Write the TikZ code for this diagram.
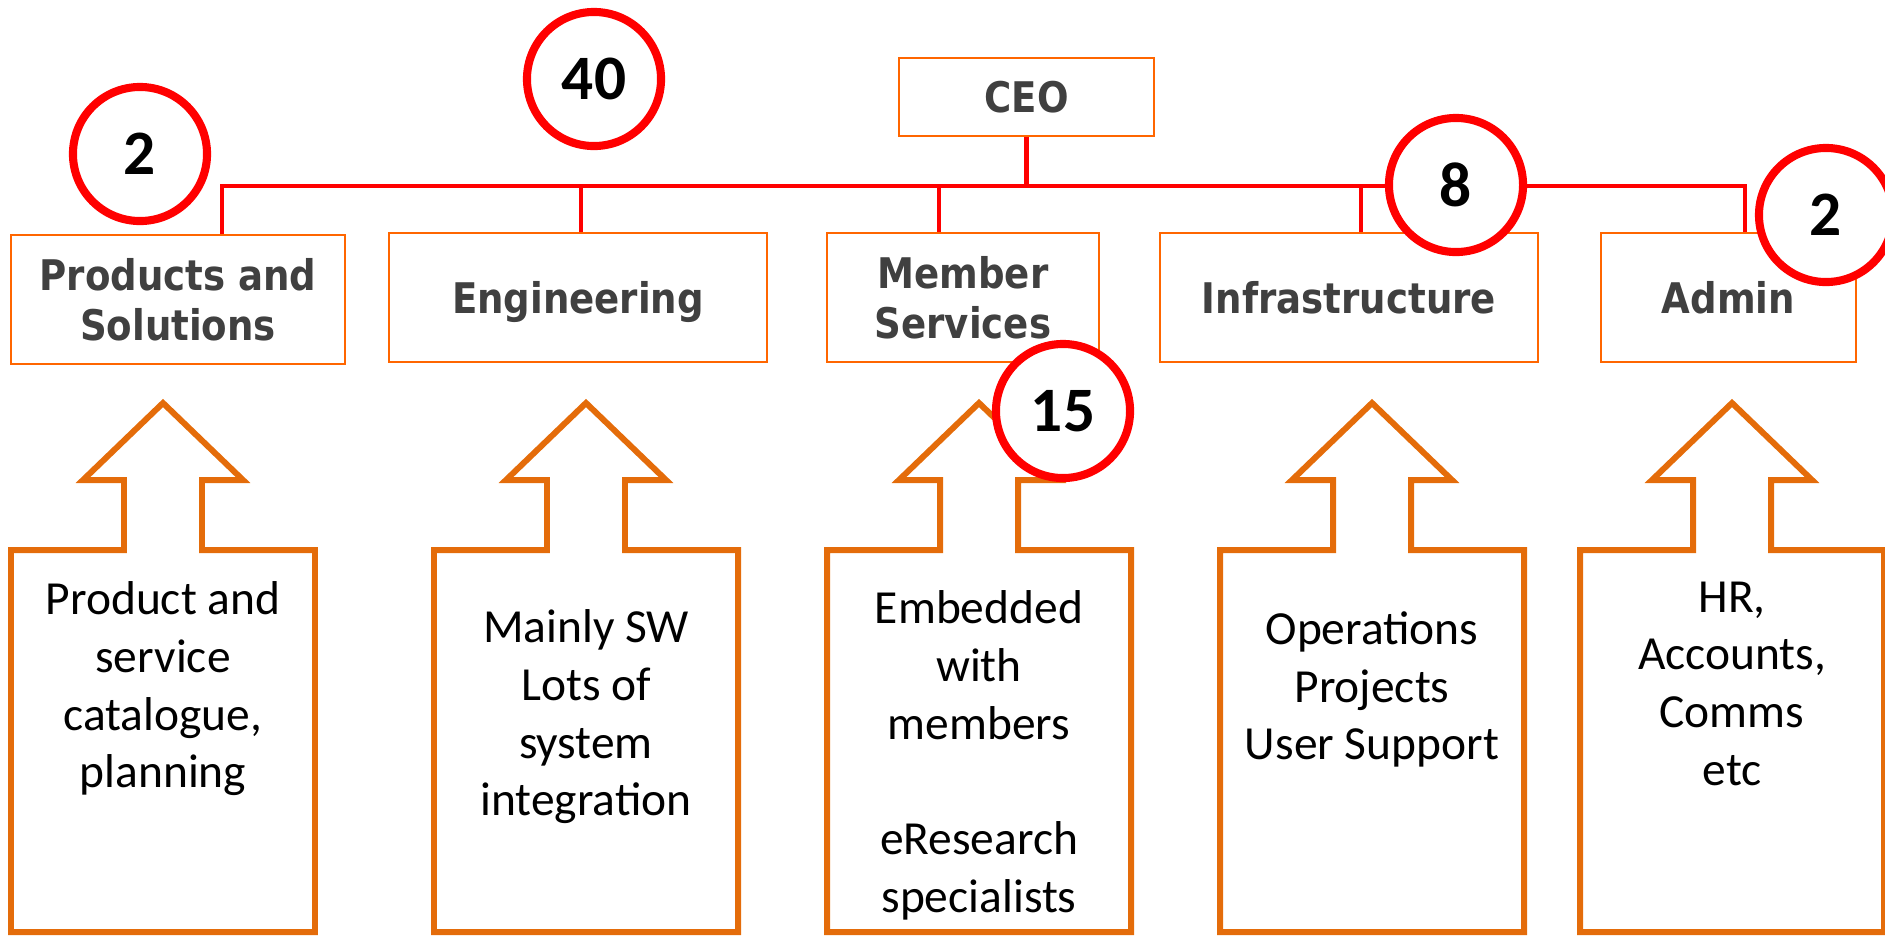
\documentclass[tikz,border=0pt]{standalone}
\usepackage{fontspec}
\setmainfont{Carlito}
\newfontfamily\headfont[FakeStretch=0.88]{DejaVu Sans}
\usepackage{xcolor}
\usepackage{tikz}
\usetikzlibrary{calc,positioning}
\definecolor{boxorange}{HTML}{FF6600}
\definecolor{calloutorange}{HTML}{E46C0A}
\definecolor{headgray}{HTML}{404040}

\begin{document}
\begin{tikzpicture}[x=0.01cm,y=-0.01cm,
	unitbox/.style={draw=boxorange,line width=0.7pt,fill=white,inner sep=0pt,minimum height=1.29cm,align=center,text=headgray,font=\headfont\bfseries\fontsize{12}{14.2}\selectfont,text depth=0pt},
	busline/.style={draw=red,line width=1.3pt},
	headcount/.style={circle,draw=red,line width=2.3pt,fill=white,minimum size=1.34cm,inner sep=0pt,font=\bfseries\fontsize{18}{20}\selectfont},
	arrowbox/.style={draw=calloutorange,line width=1.7pt,line join=miter},
	note/.style={anchor=north,align=center,inner sep=0pt,font=\fontsize{13.5}{16.4}\selectfont}]
	\useasboundingbox (0,0) rectangle (1885,936);
	% units
	\node[unitbox,minimum width=2.55cm,minimum height=0.78cm] (ceo) at (1026.5,97) {CEO};
	\node[unitbox,minimum width=3.34cm] (prod) at (178,299.5) {Products and\\Solutions};
	\node[unitbox,minimum width=3.78cm] (eng) at (578,297.5) {Engineering};
	\node[unitbox,minimum width=2.72cm] (mem) at (963,297.5) {Member\\Services};
	\node[unitbox,minimum width=3.78cm] (infra) at (1349,297.5) {Infrastructure};
	\node[unitbox,minimum width=2.55cm] (admin) at (1728.5,297.5) {Admin};
	% reporting lines
	\coordinate (bus) at (0,186);
	\draw[busline] (ceo) -- (ceo |- bus);
	\draw[busline] (222,0 |- prod.north) |- (1745,0 |- bus) -- (1745,0 |- admin.north);
	\foreach \n/\x in {eng/581,mem/939,infra/1361}
		\draw[busline] (\x,0 |- bus) -- (\x,0 |- \n.north);
	% callouts
	\foreach \cx in {163,586,979,1372,1732}
		\draw[arrowbox] (\cx-152,932) -- (\cx-152,550) -- (\cx-39,550) -- (\cx-39,480) -- (\cx-80,480) -- (\cx,403) -- (\cx+80,480) -- (\cx+39,480) -- (\cx+39,550) -- (\cx+152,550) -- (\cx+152,932) -- cycle;
	\node[note] (pnote) at (163,581) {Product and\\service\\catalogue,\\planning};
	\node[note] (enote) at (586,609) {Mainly SW\\Lots of\\system\\integration};
	\node[note] (mnote) at (979,590) {Embedded\\with\\members\\[16.4pt]eResearch\\specialists};
	\node[note] (inote) at (1372,611) {Operations\\Projects\\User Support};
	\node[note] (anote) at (1732,581) {HR,\\Accounts,\\Comms\\etc};
	% head counts
	\node[headcount] (nprod) at (140,154) {2};
	\node[headcount] (neng) at (594,79) {40};
	\node[headcount] (nmem) at (1063,411) {15};
	\node[headcount] (ninfra) at (1456,185) {8};
	\node[headcount] (nadmin) at (1826,215) {2};
\end{tikzpicture}
\end{document}
